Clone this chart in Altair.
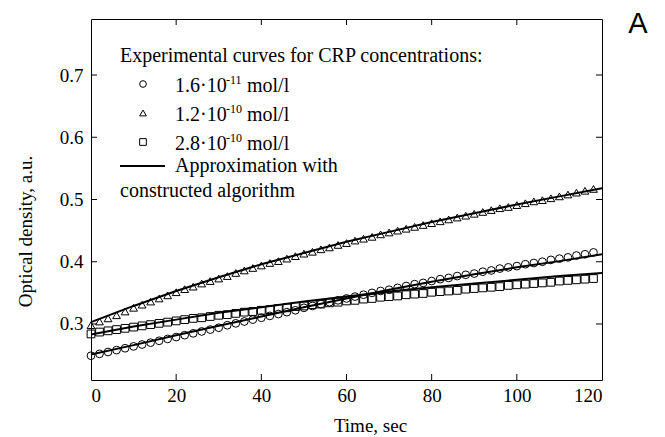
import altair as alt
import pandas as pd

# ---- data -------------------------------------------------------------
t_points = list(range(0, 120, 2))

circles = [0.249, 0.252, 0.255, 0.258, 0.261, 0.264, 0.267, 0.270, 0.273, 0.276,
           0.279, 0.282, 0.285, 0.288, 0.291, 0.294, 0.298, 0.301, 0.304, 0.307,
           0.310, 0.313, 0.316, 0.319, 0.322, 0.326, 0.329, 0.332, 0.335, 0.338,
           0.341, 0.344, 0.347, 0.350, 0.353, 0.355, 0.358, 0.361, 0.364, 0.366,
           0.369, 0.372, 0.374, 0.377, 0.379, 0.381, 0.384, 0.386, 0.389, 0.391,
           0.393, 0.396, 0.398, 0.400, 0.403, 0.405, 0.407, 0.410, 0.412, 0.415]

triangles = [0.298, 0.304, 0.309, 0.314, 0.320, 0.326, 0.331, 0.336, 0.341, 0.346,
             0.351, 0.356, 0.360, 0.365, 0.369, 0.373, 0.377, 0.382, 0.386, 0.390,
             0.394, 0.398, 0.401, 0.405, 0.409, 0.413, 0.416, 0.420, 0.423, 0.427,
             0.430, 0.434, 0.437, 0.440, 0.444, 0.447, 0.450, 0.453, 0.456, 0.459,
             0.462, 0.465, 0.468, 0.471, 0.474, 0.477, 0.480, 0.483, 0.486, 0.488,
             0.491, 0.494, 0.497, 0.499, 0.502, 0.505, 0.508, 0.511, 0.514, 0.517]

squares = [0.284, 0.287, 0.289, 0.291, 0.293, 0.295, 0.297, 0.299, 0.301, 0.303,
           0.305, 0.307, 0.309, 0.310, 0.312, 0.314, 0.315, 0.317, 0.319, 0.320,
           0.322, 0.323, 0.325, 0.326, 0.328, 0.329, 0.331, 0.332, 0.334, 0.335,
           0.337, 0.338, 0.340, 0.341, 0.343, 0.344, 0.345, 0.347, 0.348, 0.349,
           0.351, 0.352, 0.353, 0.354, 0.356, 0.357, 0.358, 0.359, 0.360, 0.362,
           0.363, 0.364, 0.365, 0.366, 0.367, 0.369, 0.370, 0.371, 0.372, 0.373]

t_fit = [0, 10, 20, 30, 40, 50, 60, 70, 80, 90, 100, 110, 120]
fit_circles = [0.251, 0.266, 0.282, 0.297, 0.312, 0.327, 0.341, 0.355, 0.368, 0.380, 0.391, 0.401, 0.412]
fit_triangles = [0.303, 0.329, 0.353, 0.375, 0.396, 0.414, 0.432, 0.448, 0.464, 0.478, 0.492, 0.505, 0.518]
fit_squares = [0.283, 0.296, 0.307, 0.318, 0.327, 0.336, 0.344, 0.352, 0.359, 0.365, 0.371, 0.377, 0.382]

series_names = ["1.6e-11", "1.2e-10", "2.8e-10"]
x_labels = [0, 20, 40, 60, 80, 100, 120]
x_ticks = [20, 40, 60, 80, 100]
y_ticks = [0.3, 0.4, 0.5, 0.6, 0.7]

# ---- tables -----------------------------------------------------------
pts = pd.concat([
    pd.DataFrame({"t": t_points, "od": vals, "series": name})
    for name, vals in zip(series_names, [circles, triangles, squares])
])
fits = pd.concat([
    pd.DataFrame({"t": t_fit, "od": vals, "series": name})
    for name, vals in zip(series_names, [fit_circles, fit_triangles, fit_squares])
])

W, H = 511, 361
SERIF = "Liberation Serif"

xscale = alt.Scale(domain=[0, 120], nice=False)
yscale = alt.Scale(domain=[0.21, 0.79], nice=False)

axis_text = dict(labelFont=SERIF, labelFontSize=19, labelColor="black",
                 titleFont=SERIF, titleFontSize=19, titleColor="black", titleFontWeight="normal")

points = alt.Chart(pts).mark_point(filled=False, stroke="black", strokeWidth=1, size=60, opacity=1).encode(
    x=alt.X("t:Q", scale=xscale,
            axis=alt.Axis(values=x_labels, ticks=False, tickSize=0, domain=False,
                          grid=False, labelPadding=6, title="Time, sec",
                          titleX=279, titleY=51, titleBaseline="alphabetic", titleAlign="center",
                          **axis_text)),
    y=alt.Y("od:Q", scale=yscale,
            axis=alt.Axis(values=y_ticks, ticks=False, tickSize=0, domain=False, grid=False,
                          labelPadding=8, format=".1f", title="Optical density, a.u.",
                          titleX=-60, titleY=212, titleBaseline="alphabetic", titleAlign="center",
                          titleAngle=-90, **axis_text)),
    shape=alt.Shape("series:N", scale=alt.Scale(domain=series_names,
                                                range=["circle", "triangle-up", "square"]),
                    legend=None),
)

lines = alt.Chart(fits).mark_line(color="black", strokeWidth=2).encode(
    x=alt.X("t:Q", scale=xscale),
    y=alt.Y("od:Q", scale=yscale),
    detail="series:N",
)

tick_len = 6
xt = pd.DataFrame({"t": x_ticks})
yt = pd.DataFrame({"od": y_ticks})
ticks_bottom = alt.Chart(xt).mark_rule(color="black").encode(
    x=alt.X("t:Q", scale=xscale), y=alt.value(H), y2=alt.value(H - tick_len))
ticks_top = alt.Chart(xt).mark_rule(color="black").encode(
    x=alt.X("t:Q", scale=xscale), y=alt.value(0), y2=alt.value(tick_len))
ticks_left = alt.Chart(yt).mark_rule(color="black").encode(
    y=alt.Y("od:Q", scale=yscale), x=alt.value(0), x2=alt.value(tick_len))
ticks_right = alt.Chart(yt).mark_rule(color="black").encode(
    y=alt.Y("od:Q", scale=yscale), x=alt.value(W), x2=alt.value(W - tick_len))

OX, OY = 91, 19  # plot origin in page pixels (used for legend placement)
LF = 20  # legend font size


def label(text, px, py, size=LF, font=SERIF, align="left"):
    return alt.Chart(pd.DataFrame({"s": [text]})).mark_text(
        font=font, fontSize=size, align=align, baseline="alphabetic", color="black"
    ).encode(x=alt.value(px - OX), y=alt.value(py - OY), text="s:N")


def symbol(shape, px, py):
    return alt.Chart(pd.DataFrame({"s": [shape]})).mark_point(
        filled=False, stroke="black", strokeWidth=1, size=45, shape=shape, opacity=1
    ).encode(x=alt.value(px - OX), y=alt.value(py - OY))


legend_layers = [
    label("Experimental curves for CRP concentrations:", 120, 62),
    symbol("circle", 143, 84),
    symbol("triangle-up", 143, 113),
    symbol("square", 143, 142),
]
entries = [("1.6\u00b710", "-11", 92), ("1.2\u00b710", "-10", 121), ("2.8\u00b710", "-10", 150)]
for base, sup, by in entries:
    legend_layers.append(label(base, 175, by))
    legend_layers.append(label(sup, 226, by - 8, size=12))
    legend_layers.append(label("mol/l", 247, by))

legend_line = alt.Chart(pd.DataFrame({"s": [1]})).mark_rule(color="black", strokeWidth=2).encode(
    x=alt.value(120 - OX), x2=alt.value(165 - OX), y=alt.value(166 - OY))
legend_layers.append(legend_line)
legend_layers.append(label("Approximation with", 175, 172))
legend_layers.append(label("constructed algorithm", 120, 197))
legend_layers.append(label("A", 638, 33, size=29, font="Liberation Sans", align="center"))

chart = alt.layer(
    points, lines, ticks_bottom, ticks_top, ticks_left, ticks_right, *legend_layers
).properties(
    width=W, height=H,
    padding={"left": OX, "top": OY, "right": 665 - OX - W, "bottom": 437 - OY - H},
    autosize=alt.AutoSizeParams(type="none"),
    background="white",
).configure_view(
    stroke="black", strokeWidth=1
)

chart.save("out.html", embed_options={"renderer": "svg", "actions": False})
